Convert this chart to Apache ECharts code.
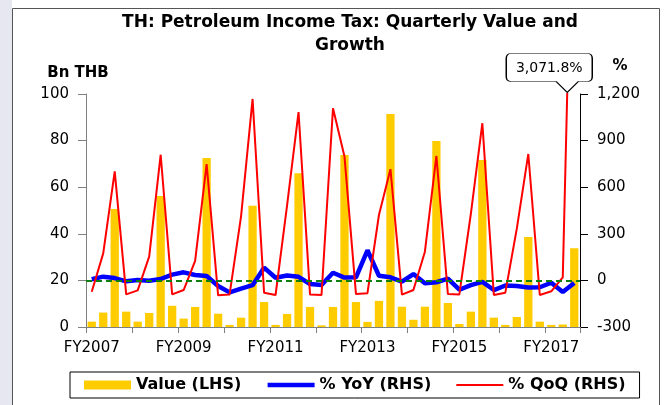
<!DOCTYPE html>
<html>
<head>
<meta charset="utf-8">
<script src="https://cdn.jsdelivr.net/npm/echarts@6/dist/echarts.min.js"></script>
<style>
html, body { margin: 0; padding: 0; background: #fff; }
#box { width: 667px; height: 405px; }
</style>
</head>
<body>
<div id="box"></div>
<script>
const quarters = [
  'FY2007 Q1', 'FY2007 Q2', 'FY2007 Q3', 'FY2007 Q4',
  'FY2008 Q1', 'FY2008 Q2', 'FY2008 Q3', 'FY2008 Q4',
  'FY2009 Q1', 'FY2009 Q2', 'FY2009 Q3', 'FY2009 Q4',
  'FY2010 Q1', 'FY2010 Q2', 'FY2010 Q3', 'FY2010 Q4',
  'FY2011 Q1', 'FY2011 Q2', 'FY2011 Q3', 'FY2011 Q4',
  'FY2012 Q1', 'FY2012 Q2', 'FY2012 Q3', 'FY2012 Q4',
  'FY2013 Q1', 'FY2013 Q2', 'FY2013 Q3', 'FY2013 Q4',
  'FY2014 Q1', 'FY2014 Q2', 'FY2014 Q3', 'FY2014 Q4',
  'FY2015 Q1', 'FY2015 Q2', 'FY2015 Q3', 'FY2015 Q4',
  'FY2016 Q1', 'FY2016 Q2', 'FY2016 Q3', 'FY2016 Q4',
  'FY2017 Q1', 'FY2017 Q2', 'FY2017 Q3'
]
// Bn THB
const value = [
  2.3, 6.2, 50.6, 6.6, 2.3, 6.0, 56.2, 9.1, 3.6, 8.6, 72.5,
  5.7, 0.9, 4.0, 52.0, 10.7, 0.9, 5.6, 66.0, 8.6, 0.7, 8.6,
  73.8, 10.7, 2.2, 11.2, 91.4, 8.7, 3.1, 8.7, 79.8, 10.3, 1.3,
  6.6, 71.7, 4.0, 0.9, 4.3, 38.6, 2.3, 0.9, 1.07, 33.8
]
// % YoY
const yoy = [
  7, 24, 15, -6, 3, -2, 9, 37, 52, 35, 28,
  -36, -77, -53, -31, 82, 17, 32, 23, -23, -30, 49,
  18, 20, 194, 30, 20, -8, 41, -19, -12, 11, -60,
  -30, -9, -62, -33, -36, -46, -44, -15, -75, -17
]
// % QoQ
const qoq = [
  -73, 174, 702, -90, -64, 153, 809, -90, -62, 125, 749,
  -96, -90, 414, 1168, -79, -94, 482, 1084, -90, -94, 1108,
  797, -88, -82, 421, 716, -92, -62, 185, 801, -88, -90,
  429, 1012, -94, -79, 333, 814, -94, -70, 20, 3071.8
]
const leftTicks = { min: 0, max: 100, step: 20 }
const rightTicks = { min: -300, max: 1200, step: 300 }

const font = 'DejaVu Sans'
const fmt = v => v.toLocaleString('en-US')
const last = qoq.length - 1

var myChart = echarts.init(document.getElementById('box'))
myChart.setOption({
  animation: false,
  textStyle: { fontFamily: font },
  title: {
    text: 'TH: Petroleum Income Tax: Quarterly Value and\nGrowth',
    left: 345,
    top: 6,
    textAlign: 'center',
    textStyle: {
      fontFamily: font,
      fontSize: 17,
      fontWeight: 'bold',
      color: '#000',
      lineHeight: 23
    }
  },
  graphic: [
    { type: 'rect', silent: true, z: -10, shape: { x: 0, y: 0, width: 12, height: 405 }, style: { fill: '#e7e7f1' } },
    { type: 'rect', silent: true, z: -9, shape: { x: 12.5, y: 8.5, width: 647, height: 410 }, style: { fill: '#fff', stroke: '#555', lineWidth: 1 } }
  ],
  grid: { left: 86, right: 87, top: 94, bottom: 78 },
  legend: {
    left: 70,
    top: 372,
    padding: [5, 14],
    itemGap: 24,
    itemWidth: 47,
    itemHeight: 9,
    borderColor: '#000',
    borderWidth: 1,
    textStyle: { fontFamily: font, fontSize: 16, fontWeight: 'bold', color: '#000' },
    data: [
      { name: 'Value (LHS)', icon: 'rect' },
      { name: '% YoY (RHS)', itemStyle: { opacity: 0 }, lineStyle: { width: 4.5 } },
      { name: '% QoQ (RHS)', itemStyle: { opacity: 0 }, lineStyle: { width: 2 } }
    ]
  },
  xAxis: {
    type: 'category',
    data: quarters,
    boundaryGap: true,
    axisLine: { lineStyle: { color: '#808080', width: 1 } },
    axisTick: { show: true, interval: 3, length: 6, lineStyle: { color: '#808080' } },
    axisLabel: {
      interval: 7,
      margin: 14,
      fontSize: 15,
      color: '#000',
      formatter: v => v.split(' ')[0]
    }
  },
  yAxis: [
    {
      type: 'value',
      position: 'left',
      min: leftTicks.min,
      max: leftTicks.max,
      interval: leftTicks.step,
      name: 'Bn THB',
      nameGap: 13,
      nameTextStyle: { fontFamily: font, fontSize: 15, fontWeight: 'bold', color: '#000', padding: [0, 16, 0, 0] },
      axisLine: { show: true, lineStyle: { color: '#808080' } },
      axisTick: { show: true, length: 8, lineStyle: { color: '#808080' } },
      axisLabel: { fontSize: 15, color: '#000', margin: 17 },
      splitLine: { show: false }
    },
    {
      type: 'value',
      position: 'right',
      min: rightTicks.min,
      max: rightTicks.max,
      interval: rightTicks.step,
      name: '%',
      nameGap: 20,
      nameTextStyle: { fontFamily: font, fontSize: 15, fontWeight: 'bold', color: '#000', padding: [0, 0, 0, 80] },
      axisLine: { show: true, lineStyle: { color: '#000' } },
      axisTick: { show: true, length: 8, lineStyle: { color: '#000' } },
      axisLabel: { fontSize: 15, color: '#000', margin: 17, formatter: fmt },
      splitLine: { show: false }
    }
  ],
  series: [
    {
      name: 'Value (LHS)',
      type: 'bar',
      data: value,
      barCategoryGap: '28%',
      itemStyle: { color: '#FFCC00' }
    },
    {
      name: '% YoY (RHS)',
      type: 'line',
      yAxisIndex: 1,
      data: yoy,
      symbol: 'none',
      lineStyle: { color: '#0000FF', width: 4.5 },
      itemStyle: { color: '#0000FF' },
      markLine: {
        silent: true,
        symbol: 'none',
        label: { show: false },
        lineStyle: { color: '#0f800f', type: [6, 4], width: 2 },
        data: [{ yAxis: 0 }]
      }
    },
    {
      name: '% QoQ (RHS)',
      type: 'line',
      yAxisIndex: 1,
      data: qoq,
      symbol: 'none',
      clip: true,
      lineStyle: { color: '#FF0000', width: 2 },
      itemStyle: { color: '#FF0000' },
      markPoint: {
        silent: true,
        data: [{
          coord: [last, rightTicks.max],
          value: fmt(qoq[last]) + '%',
          symbol: 'path://M5,0 L81,0 Q86,0 86,5 L86,23 Q86,28 81,28 L72,28 L61,39 L50,28 L5,28 Q0,28 0,23 L0,5 Q0,0 5,0 Z',
          symbolSize: [86, 39],
          symbolKeepAspect: false,
          symbolOffset: [-25, -21],
          itemStyle: { color: '#fff', borderColor: '#000', borderWidth: 1 },
          label: {
            show: true,
            position: 'inside',
            offset: [0, -5],
            fontFamily: font,
            fontSize: 14,
            color: '#000',
            formatter: p => p.value
          }
        }]
      }
    }
  ]
})
</script>
</body>
</html>
